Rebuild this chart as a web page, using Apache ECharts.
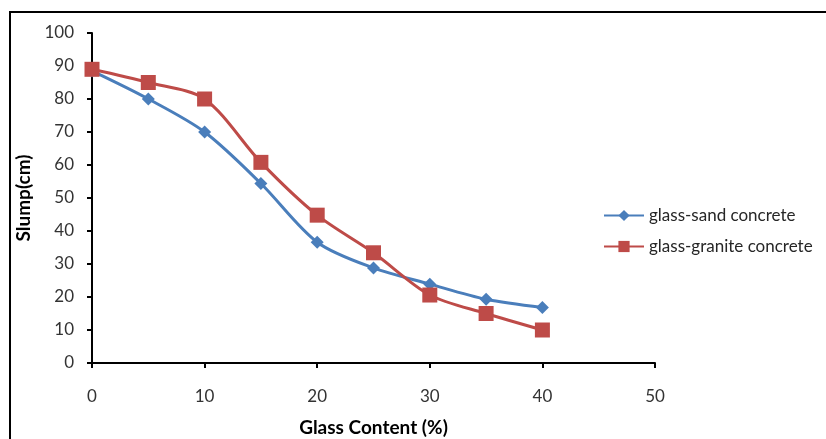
<!DOCTYPE html>
<html>
<head>
<meta charset="utf-8">
<script src="https://cdn.jsdelivr.net/npm/echarts@6/dist/echarts.min.js"></script>
<style>
  html, body { margin: 0; padding: 0; background: #fff; }
  #chart { width: 826px; height: 439px; }
</style>
</head>
<body>
<div id="chart"></div>
<script>
// glass content (%) on the x axis
const glassContent = [0, 5, 10, 15, 20, 25, 30, 35, 40];
// slump (cm) values
const sandSlump = [88.5, 80, 70, 54.4, 36.6, 28.8, 23.9, 19.3, 16.8];
const graniteSlump = [89, 85, 80, 60.8, 44.8, 33.4, 20.6, 15, 10];

const seriesNames = ['glass-sand concrete', 'glass-granite concrete'];

const pairs = (xs, ys) => xs.map((x, i) => [x, ys[i]]);

let chart = echarts.init(document.getElementById('chart'));

let option = {
  animation: false,
  textStyle: { fontFamily: 'Lato, "Open Sans", sans-serif' },
  graphic: [
    { type: 'line', shape: { x1: 9, y1: 12, x2: 826, y2: 12 }, style: { stroke: '#000', lineWidth: 2 } },
    { type: 'line', shape: { x1: 10, y1: 12, x2: 10, y2: 439 }, style: { stroke: '#000', lineWidth: 2 } }
  ],
  grid: { left: 92, right: 171, top: 33, bottom: 76, outerBoundsMode: 'none' },
  legend: {
    orient: 'vertical',
    left: 598,
    top: 202,
    itemWidth: 40,
    itemHeight: 14,
    itemGap: 14,
    textStyle: { fontSize: 17, color: '#262626', fontFamily: 'Lato, sans-serif' },
    data: seriesNames
  },
  xAxis: {
    type: 'value',
    min: 0,
    max: 50,
    interval: 10,
    name: 'Glass Content (%)',
    nameLocation: 'middle',
    nameGap: 55,
    nameTextStyle: { fontSize: 19, fontWeight: 'bold', color: '#000' },
    axisLine: { lineStyle: { color: '#000', width: 2 } },
    axisTick: { show: true, length: 5, lineStyle: { color: '#000', width: 2 } },
    axisLabel: { fontSize: 17, color: '#333', margin: 25 },
    splitLine: { show: false }
  },
  yAxis: {
    type: 'value',
    min: 0,
    max: 100,
    interval: 10,
    name: 'Slump(cm)',
    nameLocation: 'middle',
    nameGap: 40,
    nameTextStyle: { fontSize: 19, fontWeight: 'bold', color: '#000' },
    axisLine: { show: true, lineStyle: { color: '#000', width: 2 } },
    axisTick: { show: true, length: 5, lineStyle: { color: '#000', width: 2 } },
    axisLabel: { fontSize: 17, color: '#333', margin: 18 },
    splitLine: { show: false }
  },
  series: [
    {
      name: seriesNames[0],
      type: 'line',
      smooth: 0.3,
      data: pairs(glassContent, sandSlump),
      symbol: 'diamond',
      symbolSize: 13,
      lineStyle: { color: '#4A7EBB', width: 3 },
      itemStyle: { color: '#4A7EBB' }
    },
    {
      name: seriesNames[1],
      type: 'line',
      smooth: 0.3,
      data: pairs(glassContent, graniteSlump),
      symbol: 'rect',
      symbolSize: 15,
      lineStyle: { color: '#BE4B48', width: 3 },
      itemStyle: { color: '#BE4B48' }
    }
  ]
};

chart.setOption(option);
</script>
</body>
</html>
